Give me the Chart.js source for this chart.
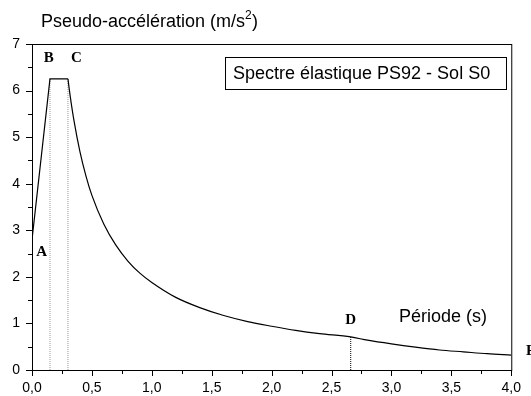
<!DOCTYPE html>
<html lang="fr">
<head>
    <meta charset="UTF-8">
    <title>Spectre élastique PS92</title>
    <script src="https://cdn.jsdelivr.net/npm/chart.js"></script>
    <style>
        body { margin: 0; background: #fff; }
        #wrap { position: relative; width: 531px; height: 396px; }
    </style>
</head>
<body>
    <div id="wrap">
        <canvas id="spectre" width="531" height="396"></canvas>
    </div>

    <script>
        // Branche montante A-B-C (droites)
        const riseT = [0, 0.15, 0.30];
        const riseA = [2.8, 6.25, 6.25];

        // Branche décroissante C-D-E
        const decayT = [0.30, 0.32, 0.35, 0.40, 0.45, 0.50, 0.60, 0.70, 0.80, 0.90, 1.00, 1.20, 1.40,
                        1.60, 1.80, 2.00, 2.20, 2.40, 2.66, 2.80, 3.00, 3.20, 3.40, 3.60, 3.80, 4.00];
        const decayA = [6.25, 5.86, 5.36, 4.69, 4.17, 3.75, 3.13, 2.68, 2.34, 2.08, 1.88, 1.56, 1.34,
                        1.17, 1.04, 0.94, 0.85, 0.78, 0.71, 0.64, 0.56, 0.49, 0.43, 0.39, 0.35, 0.32];

        // Verticales pointillées aux points B, C, D
        const markT = [0.15, 0.30, 2.66];
        const markA = [6.25, 6.25, 0.71];

        const pointNames = ['A', 'B', 'C', 'D', 'E'];
        const pointT = [0.08, 0.14, 0.37, 2.66, 4.165];
        const pointA = [2.53, 6.7, 6.7, 1.07, 0.4];

        const toXY = (xs, ys) => xs.map((x, i) => ({ x: x, y: ys[i] }));
        const sans = '"Liberation Sans", Arial, Helvetica, sans-serif';

        const datasets = [
            {
                data: toXY(riseT, riseA),
                borderColor: '#000', borderWidth: 1.2, pointRadius: 0, tension: 0
            },
            {
                data: toXY(decayT, decayA),
                borderColor: '#000', borderWidth: 1.2, pointRadius: 0,
                cubicInterpolationMode: 'monotone'
            }
        ];
        markT.forEach((t, i) => {
            datasets.push({
                data: [{ x: t, y: 0 }, { x: t, y: markA[i] }],
                borderColor: i < 2 ? '#999' : '#000',
                borderWidth: 1, borderDash: [1, 1], pointRadius: 0
            });
        });

        // Cadre, graduations et textes
        const decor = {
            id: 'decor',
            afterDraw(chart) {
                const ctx = chart.ctx;
                const a = chart.chartArea;
                const xs = chart.scales.x, ys = chart.scales.y;
                ctx.save();
                ctx.strokeStyle = '#000';
                ctx.lineWidth = 1;
                ctx.strokeRect(a.left + 0.5, a.top + 0.5, a.right - a.left, a.bottom - a.top);

                ctx.beginPath();
                xs.ticks.forEach(t => {
                    const px = Math.round(xs.getPixelForValue(t.value)) + 0.5;
                    const major = Math.abs(t.value * 2 - Math.round(t.value * 2)) < 1e-6;
                    ctx.moveTo(px, a.bottom);
                    ctx.lineTo(px, a.bottom + (major ? 6 : 4));
                });
                ys.ticks.forEach(t => {
                    const py = Math.round(ys.getPixelForValue(t.value)) + 0.5;
                    const major = Math.abs(t.value - Math.round(t.value)) < 1e-6;
                    ctx.moveTo(a.left, py);
                    ctx.lineTo(a.left - (major ? 6 : 4), py);
                });
                ctx.stroke();

                // titres
                ctx.fillStyle = '#000';
                ctx.font = '18px ' + sans;
                ctx.textBaseline = 'alphabetic';
                ctx.textAlign = 'left';
                const t1 = 'Pseudo-accélération (m/s';
                ctx.fillText(t1, 41, 27);
                const w1 = ctx.measureText(t1).width;
                ctx.font = '12px ' + sans;
                ctx.fillText('2', 41 + w1, 19);
                ctx.font = '18px ' + sans;
                ctx.fillText(')', 41 + w1 + 7, 27);

                ctx.fillText('Période (s)', 399, 322);

                // cartouche
                ctx.strokeRect(225.5, 57.5, 281, 32);
                ctx.fillText('Spectre élastique PS92 - Sol S0', 233, 79);

                // lettres des points
                ctx.font = 'bold 15px "Liberation Serif", "Times New Roman", serif';
                ctx.textAlign = 'center';
                ctx.textBaseline = 'middle';
                pointNames.forEach((n, i) => {
                    const px = xs.getPixelForValue(pointT[i]);
                    const py = ys.getPixelForValue(pointA[i]);
                    ctx.fillText(n, px, py);
                });
                ctx.restore();
            }
        };

        new Chart(document.getElementById('spectre'), {
            type: 'line',
            data: { datasets: datasets },
            options: {
                responsive: false,
                animation: false,
                layout: { padding: { top: 44, right: 19, left: 0, bottom: 0 } },
                plugins: { legend: { display: false }, tooltip: { enabled: false } },
                scales: {
                    x: {
                        type: 'linear', min: 0, max: 4,
                        grid: { display: false, drawTicks: false },
                        border: { display: false },
                        afterFit: s => { s.height = 26; },
                        ticks: {
                            stepSize: 0.25, maxRotation: 0, autoSkip: false, padding: 10,
                            color: '#000',
                            font: { family: sans, size: 14 },
                            callback: v => Math.abs(v * 2 - Math.round(v * 2)) < 1e-6 ? v.toFixed(1).replace('.', ',') : ''
                        }
                    },
                    y: {
                        type: 'linear', min: 0, max: 7,
                        grid: { display: false, drawTicks: false },
                        border: { display: false },
                        afterFit: s => { s.width = 32; },
                        ticks: {
                            stepSize: 0.5, autoSkip: false, padding: 12,
                            color: '#000',
                            font: { family: sans, size: 14 },
                            callback: v => Math.abs(v - Math.round(v)) < 1e-6 ? String(v) : ''
                        }
                    }
                }
            },
            plugins: [decor]
        });
    </script>
</body>
</html>
